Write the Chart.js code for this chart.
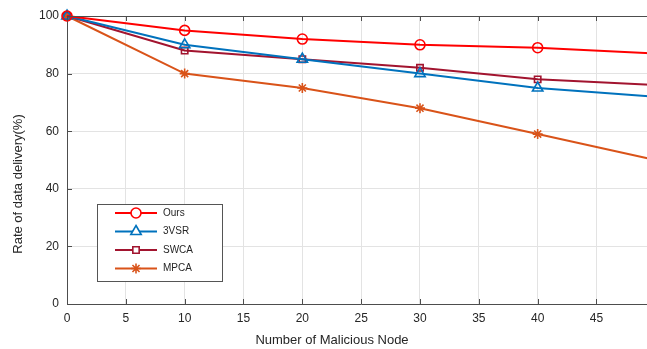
<!DOCTYPE html>
<html>
<head>
<meta charset="utf-8">
<script src="https://cdn.jsdelivr.net/npm/chart.js@4"></script>
<style>
  html, body { margin: 0; padding: 0; background: #fff; overflow: hidden; }
  #wrap { position: relative; width: 669px; height: 349px; }
</style>
</head>
<body>
<div id="wrap"><canvas id="chart" width="669" height="349"></canvas></div>
<script>
// data
const nodes = [0, 10, 20, 30, 40, 50];
const ours = [100, 95, 92, 90, 89, 87];
const vsr = [100, 90, 85, 80, 75, 72];
const swca = [100, 88, 85, 82, 78, 76];
const mpca = [100, 80, 75, 68, 59, 50];
const seriesNames = ["Ours", "3VSR", "SWCA", "MPCA"];
const xTitle = "Number of Malicious Node";
const yTitle = "Rate of data delivery(%)";

const fontName = "'Liberation Sans', Arial, sans-serif";
const axisColor = "#262626";

function xy(vals) {
  return vals.map((v, i) => ({ x: nodes[i], y: v }));
}

// ticks inside the box + the top border line, like matlab
const boxPlugin = {
  id: "box",
  afterDraw(chart) {
    const ctx = chart.ctx;
    const a = chart.chartArea;
    const xs = chart.scales.x;
    const ys = chart.scales.y;
    ctx.save();
    ctx.strokeStyle = "#4d4d4d";
    ctx.lineWidth = 1;
    ctx.beginPath();
    ctx.moveTo(a.left, a.top + 0.5);
    ctx.lineTo(a.right, a.top + 0.5);
    for (let v = 0; v <= 50; v += 5) {
      const px = Math.round(xs.getPixelForValue(v)) + 0.5;
      ctx.moveTo(px, a.bottom);
      ctx.lineTo(px, a.bottom - 5);
      ctx.moveTo(px, a.top);
      ctx.lineTo(px, a.top + 5);
    }
    for (let v = 0; v <= 100; v += 20) {
      const py = Math.round(ys.getPixelForValue(v)) + 0.5;
      ctx.moveTo(a.left, py);
      ctx.lineTo(a.left + 5, py);
    }
    ctx.stroke();

    // axis titles (sit a bit off-centre in the original)
    ctx.fillStyle = axisColor;
    ctx.font = "13px " + fontName;
    ctx.textAlign = "center";
    ctx.textBaseline = "middle";
    ctx.fillText(xTitle, 332, 340);
    ctx.translate(18, 184);
    ctx.rotate(-Math.PI / 2);
    ctx.fillText(yTitle, 0, 0);
    ctx.restore();
  }
};

// legend box inside the plot, bottom left
const legendPlugin = {
  id: "boxLegend",
  afterDraw(chart) {
    const ctx = chart.ctx;
    const bx = 97, by = 204, bw = 125, bh = 77;
    ctx.save();
    ctx.fillStyle = "#fff";
    ctx.fillRect(bx, by, bw, bh);
    ctx.strokeStyle = "#555";
    ctx.lineWidth = 1;
    ctx.strokeRect(bx + 0.5, by + 0.5, bw, bh);
    ctx.font = "10px " + fontName;
    ctx.textBaseline = "middle";
    chart.data.datasets.forEach((ds, i) => {
      const y = by + 9 + i * 18.5;
      ctx.strokeStyle = ds.borderColor;
      ctx.lineWidth = 2;
      ctx.beginPath();
      ctx.moveTo(115, y);
      ctx.lineTo(157, y);
      ctx.stroke();
      ctx.fillStyle = "#fff";
      ctx.lineWidth = ds.pointBorderWidth;
      Chart.helpers.drawPoint(ctx, {
        pointStyle: ds.pointStyle,
        radius: ds.pointRadius,
        borderWidth: ds.pointBorderWidth,
        rotation: 0
      }, 136, y);
      ctx.fillStyle = "#262626";
      ctx.fillText(ds.label, 163, y);
    });
    ctx.restore();
  }
};

function series(label, vals, color, style, r) {
  return {
    label: label,
    data: xy(vals),
    borderColor: color,
    backgroundColor: "rgba(0,0,0,0)",
    pointBorderColor: color,
    pointBackgroundColor: "rgba(0,0,0,0)",
    borderWidth: 2,
    pointStyle: style,
    pointRadius: r,
    pointBorderWidth: 1.6,
    tension: 0
  };
}

new Chart(document.getElementById("chart"), {
  type: "line",
  data: {
    datasets: [
      series(seriesNames[0], ours, "#FF0000", "circle", 5),
      series(seriesNames[1], vsr, "#0072BD", "triangle", 6),
      series(seriesNames[2], swca, "#A2142F", "rect", 4.5),
      series(seriesNames[3], mpca, "#D95319", "star", 5)
    ]
  },
  options: {
    responsive: false,
    animation: false,
    clip: false,
    layout: { padding: { left: 0, top: 16, right: 10, bottom: 0 } },
    plugins: { legend: { display: false }, tooltip: { enabled: false } },
    scales: {
      x: {
        type: "linear",
        min: 0,
        max: 50,
        ticks: { stepSize: 5, color: axisColor, padding: 7, font: { family: fontName, size: 12 } },
        grid: { color: "#e3e3e3", drawTicks: false },
        border: { color: "#4d4d4d" },
        afterFit(s) { s.height = 45; }
      },
      y: {
        min: 0,
        max: 100,
        ticks: { stepSize: 20, color: axisColor, padding: 8, font: { family: fontName, size: 12 } },
        grid: { color: "#e3e3e3", drawTicks: false },
        border: { color: "#4d4d4d" },
        afterFit(s) { s.width = 67; }
      }
    }
  },
  plugins: [boxPlugin, legendPlugin]
});
</script>
</body>
</html>
